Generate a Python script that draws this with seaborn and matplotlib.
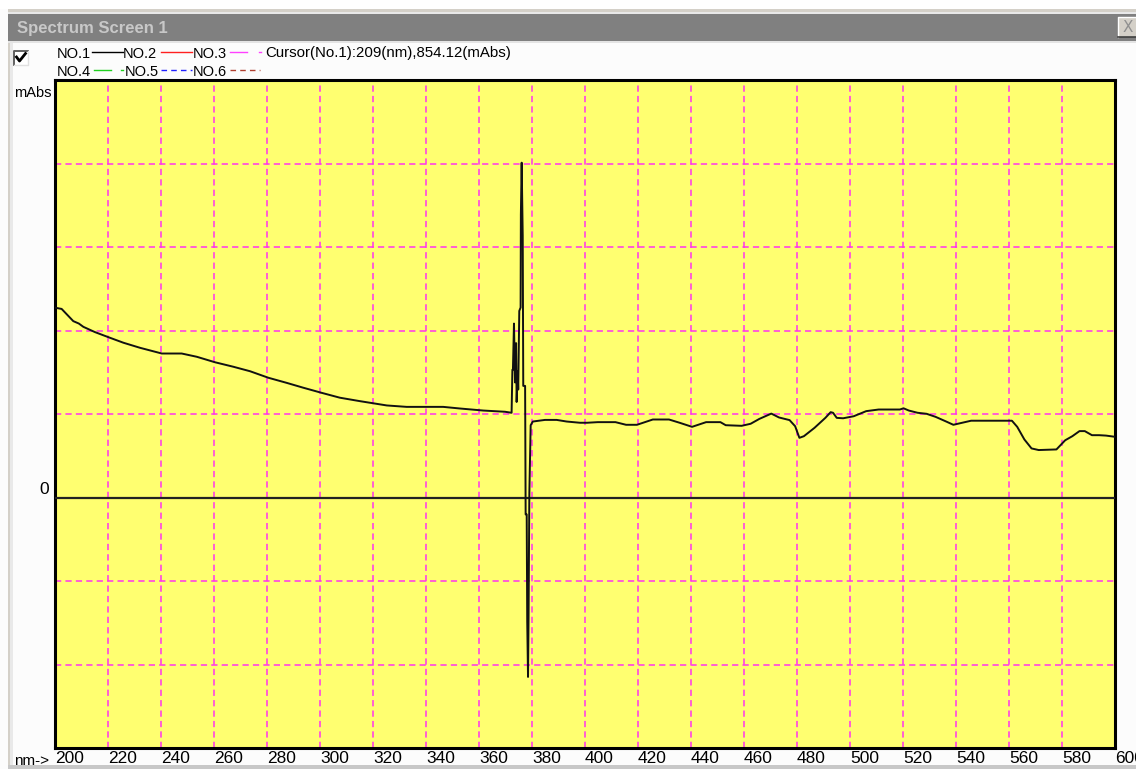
import matplotlib
matplotlib.use("Agg")
import matplotlib.pyplot as plt
import seaborn as sns
import pandas as pd
from matplotlib import font_manager
from matplotlib.patches import Rectangle
from matplotlib.lines import Line2D
from matplotlib.ticker import MultipleLocator

# ---------------- data ----------------
wavelength_nm = [
    200.0, 202.5, 206.9, 209.0, 210.7, 215.1, 220.8, 225.8, 232.1, 240.3,
    247.8, 253.5, 260.4, 267.3, 273.6, 280.5, 287.4, 293.7, 300.6, 307.5,
    315.1, 325.2, 332.7, 346.5, 352.8, 361.6, 369.8, 372.3, 372.6, 372.8,
    373.2, 373.6, 374.0, 374.2, 374.6, 374.8, 375.2, 375.7, 375.8, 376.1,
    376.5, 376.7, 377.4, 377.6, 378.0, 378.2, 378.5, 378.7, 379.0, 379.5,
    380.3, 384.9, 389.3, 393.1, 398.1, 400.8, 404.8, 411.5, 415.5, 419.6,
    425.6, 431.7, 435.7, 440.4, 445.7, 451.1, 453.1, 459.1, 462.5, 465.8,
    470.3, 473.2, 477.2, 479.3, 480.9, 482.6, 486.6, 490.7, 492.7, 493.6,
    495.0, 497.4, 501.4, 506.1, 510.8, 518.8, 520.2, 522.2, 525.5, 528.9,
    532.3, 536.3, 539.0, 541.0, 545.7, 552.4, 561.1, 563.1, 565.8, 568.5,
    571.2, 577.9, 581.2, 583.9, 586.6, 588.6, 591.3, 594.0, 596.6, 600.0,
]
absorbance_mabs = [
    932, 926, 866, 854.12, 838, 812, 784, 760, 735, 707,
    707, 691, 664, 642, 620, 588, 563, 539, 514, 490,
    473, 452, 445, 445, 437, 427, 421, 416, 627, 627,
    854, 565, 758, 469, 619, 530, 916, 933, 1390, 1644,
    1284, 548, 548, -83, -83, -609, -881, -592, 22, 355,
    373, 381, 381, 373, 367, 367, 370, 370, 357, 357,
    383, 383, 367, 347, 370, 370, 355, 352, 362, 386,
    412, 393, 380, 350, 293, 301, 342, 391, 419, 416,
    391, 389, 399, 424, 432, 432, 438, 427, 416, 411,
    396, 373, 357, 363, 377, 377, 377, 347, 285, 241,
    233, 236, 281, 301, 326, 326, 306, 306, 304, 298,
]
x_ticks = [200, 220, 240, 260, 280, 300, 320, 340, 360, 380,
           400, 420, 440, 460, 480, 500, 520, 540, 560, 580, 600]
x_tick_labels = [str(t) for t in x_ticks]
grid_step_mabs = 410
y_range = (-3 * grid_step_mabs, 5 * grid_step_mabs)

window_title = "Spectrum Screen 1"
legend_row1 = ["NO.1", "NO.2", "NO.3"]
legend_row2 = ["NO.4", "NO.5", "NO.6"]
cursor_text = "Cursor(No.1):209(nm),854.12(mAbs)"

spectrum = pd.DataFrame({"nm": wavelength_nm, "mAbs": absorbance_mabs})

# ---------------- figure ----------------
W, H = 1136, 769
plt.rcParams["lines.scale_dashes"] = False
fonts = {f.name for f in font_manager.fontManager.ttflist}
ui_font = "Liberation Sans" if "Liberation Sans" in fonts else "DejaVu Sans"
tick_font = "Liberation Sans Narrow" if "Liberation Sans Narrow" in fonts else ui_font
plt.rcParams["font.family"] = [ui_font, "DejaVu Sans"]

fig = plt.figure(figsize=(W / 100, H / 100), dpi=100)
fig.patch.set_facecolor("#FCFCFC")


def fx(px):
    return px / W


def fy(py):
    return 1 - py / H


def rect(x0, y0, x1, y1, color, **kw):
    fig.add_artist(Rectangle((fx(x0), fy(y1)), fx(x1) - fx(x0), fy(y0) - fy(y1),
                             transform=fig.transFigure, facecolor=color,
                             edgecolor="none", **kw))


def seg(xs, ys, color, lw=1.0, **kw):
    fig.add_artist(Line2D([fx(v) for v in xs], [fy(v) for v in ys],
                          transform=fig.transFigure, color=color, lw=lw, **kw))


# window frame
rect(0, 0, W, 9, "#FFFFFF")
rect(8, 9, W, 12, "#D4D0C8")
rect(8, 12, W, 14, "#E8E8E8")
rect(8, 14, W, 41, "#808080")
rect(8, 41, W, 43, "#E4E4E4")
rect(8, 43, 10, H, "#D4D0C8")
rect(10, 43, 13, H, "#E9E9E9")
rect(8, 765, W, H, "#C8C8C8")
fig.text(fx(17), fy(33), window_title, color="#C8C8C8", fontsize=12,
         fontweight="bold", va="baseline", ha="left")

# close button
rect(1118, 17, W, 37, "#D4D0C8")
seg([1118, 1118, W], [37, 17, 17], "#FFFFFF", lw=1)
seg([1118, W], [37, 37], "#404040", lw=1.2)
fig.text(fx(1128), fy(27), "X", color="#909090", fontsize=11,
         ha="center", va="center", family="DejaVu Sans")

# checkbox
rect(14, 51, 28, 65, "#FFFFFF")
seg([14, 14, 28], [65, 51, 51], "#606060", lw=1.4)
seg([14, 28, 28], [65, 65, 51], "#E0E0E0", lw=1)
seg([16.5, 19.5, 25.5], [57, 61, 53.5], "#000000", lw=2)

# legend rows
leg_fs = 10.5
fig.text(fx(57), fy(57.5), legend_row1[0], fontsize=leg_fs, va="baseline")
seg([92, 123], [51.5, 51.5], "#000000", lw=1)
fig.text(fx(123), fy(57.5), legend_row1[1], fontsize=leg_fs, va="baseline")
seg([161, 192], [51.5, 51.5], "#FF2020", lw=1)
fig.text(fx(193), fy(57.5), legend_row1[2], fontsize=leg_fs, va="baseline")
seg([230, 247], [51.5, 51.5], "#FF40FF", lw=1)
seg([259, 261], [51.5, 51.5], "#FF40FF", lw=1)
fig.text(fx(265), fy(57.5), cursor_text, fontsize=10.8, va="baseline")

fig.text(fx(57), fy(76), legend_row2[0], fontsize=leg_fs, va="baseline")
seg([94, 111], [70, 70], "#20D020", lw=1)
seg([121, 123], [70, 70], "#20D020", lw=1)
fig.text(fx(125), fy(76), legend_row2[1], fontsize=leg_fs, va="baseline")
seg([161, 192], [70, 70], "#2020FF", lw=1, linestyle=(0, (4, 3)))
fig.text(fx(193), fy(76), legend_row2[2], fontsize=leg_fs, va="baseline")
seg([230, 260], [70, 70], "#B04030", lw=1, linestyle=(0, (4, 3)))

# axis captions
fig.text(fx(52), fy(97), "mAbs", fontsize=leg_fs, ha="right", va="baseline",
         family=[tick_font, "DejaVu Sans"])
fig.text(fx(14), fy(765), "nm->", fontsize=11, ha="left", va="baseline",
         family=[tick_font, "DejaVu Sans"])

# ---------------- plot area ----------------
ax = fig.add_axes([fx(55), fy(748), fx(1115) - fx(55), fy(80) - fy(748)])
ax.set_facecolor("#FFFF70")

sns.lineplot(data=spectrum, x="nm", y="mAbs", ax=ax, estimator=None, sort=False,
             color="#111111", lw=1.4, zorder=4)
ax.axhline(0, color="#222222", lw=1.6, zorder=3)

ax.set_xlim(x_ticks[0], x_ticks[-1])
ax.set_ylim(*y_range)
ax.set_xticks(x_ticks)
ax.set_xticklabels(x_tick_labels, fontsize=12.5, family=[tick_font, "DejaVu Sans"])
for lab in ax.get_xticklabels():
    lab.set_horizontalalignment("left")
ax.set_yticks([0])
ax.set_yticklabels(["0"], fontsize=12.5, family=[tick_font, "DejaVu Sans"])
for lab in ax.get_yticklabels():
    lab.set_verticalalignment("bottom")
ax.tick_params(axis="x", length=0, pad=2)
ax.tick_params(axis="y", length=0, pad=4)
ax.yaxis.set_minor_locator(MultipleLocator(grid_step_mabs))
ax.tick_params(axis="y", which="minor", length=0)

grid_style = dict(color="#FF33EE", lw=1.1, linestyle=(0, (4.5, 3)))
ax.grid(True, axis="x", which="major", **grid_style)
ax.grid(True, axis="y", which="minor", **grid_style)
ax.grid(False, axis="y", which="major")
ax.set_axisbelow(True)
ax.set_xlabel("")
ax.set_ylabel("")
for side in ["left", "right", "top", "bottom"]:
    ax.spines[side].set_color("#000000")
    ax.spines[side].set_linewidth(2.2)
    ax.spines[side].set_visible(True)

fig.savefig("out.png", dpi=100, facecolor=fig.get_facecolor())
